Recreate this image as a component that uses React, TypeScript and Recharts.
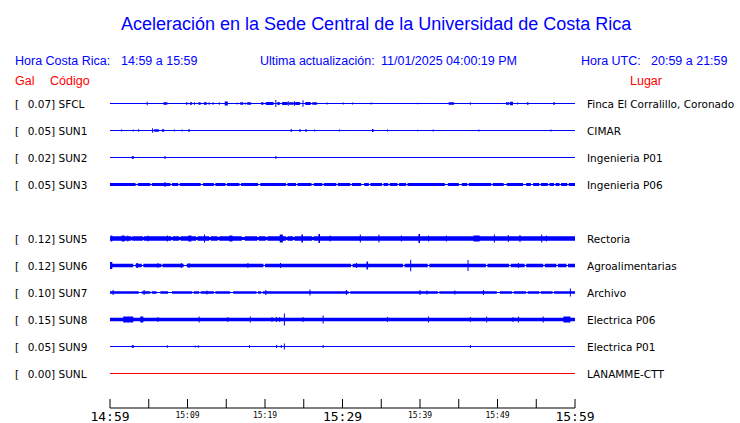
import React from 'react';
import { ComposedChart, Area, Line, XAxis, YAxis } from 'recharts';

// station list (top to bottom), Gal peak and place
const codes = ['SFCL', 'SUN1', 'SUN2', 'SUN3', 'SUN5', 'SUN6', 'SUN7', 'SUN8', 'SUN9', 'SUNL'];
const galPeaks = ['0.07', '0.05', '0.02', '0.05', '0.12', '0.12', '0.10', '0.15', '0.05', '0.00'];
const places = [
  'Finca El Corralillo, Coronado', 'CIMAR', 'Ingenieria P01', 'Ingenieria P06', 'Rectoria',
  'Agroalimentarias', 'Archivo', 'Electrica P06', 'Electrica P01', 'LANAMME-CTT',
];

// minutes after 14:59 for the axis
const axisTicks = [0, 5, 10, 15, 20, 25, 30, 35, 40, 45, 50, 55, 60];
const bigLabels: Record<number, string> = { 0: '14:59', 30: '15:29', 60: '15:59' };
const smallLabels: Record<number, string> = { 10: '15:09', 20: '15:19', 40: '15:39', 50: '15:49' };

// background half-thickness of each trace
const baseAmp = [0, 0, 0, 1.5, 2.3, 1.7, 1.3, 1.8, 0, 0];

// [start minute, end minute, half amplitude]
const sfclBursts = [
  [4.8, 4.8, 1.7], [6.9, 7.4, 1.3], [9.9, 9.9, 1.5], [10.3, 10.6, 1.3], [10.9, 11.0, 1.3],
  [11.4, 11.7, 1.3], [12.1, 12.5, 1.3], [12.7, 12.9, 1.0], [13.3, 13.3, 1.3], [14.1, 14.2, 1.3],
  [14.8, 15.2, 2.0], [16.4, 16.4, 1.0], [16.8, 17.2, 1.3], [17.5, 17.5, 1.0], [17.7, 18.2, 1.3],
  [19.5, 19.8, 1.3], [20.1, 21.1, 1.5], [21.4, 21.4, 3.5], [21.6, 21.9, 1.5], [22.2, 22.9, 1.5],
  [23.0, 23.0, 2.3], [23.1, 23.7, 1.3], [23.8, 23.8, 2.3], [23.9, 24.5, 1.5], [24.9, 24.9, 3.3],
  [25.2, 25.9, 1.5], [26.1, 26.7, 1.3], [28.0, 28.0, 1.0], [30.1, 30.1, 1.0], [31.3, 31.3, 1.0],
  [33.7, 33.7, 1.0], [39.7, 39.7, 0.8], [43.7, 44.4, 1.3], [46.5, 46.6, 1.3], [51.1, 51.5, 1.3],
  [51.6, 52.0, 1.7], [52.6, 52.6, 1.0], [53.8, 54.0, 1.3], [57.2, 57.4, 1.3],
];
const sun1Bursts = [
  [1.5, 1.5, 1.0], [3.0, 3.0, 1.0], [3.7, 3.7, 1.3], [5.5, 5.5, 2.3], [5.7, 6.3, 1.3],
  [6.7, 7.0, 1.3], [8.3, 8.3, 1.0], [9.3, 9.3, 1.0], [10.1, 10.3, 1.3], [23.3, 23.5, 1.3],
  [24.4, 24.6, 1.3], [25.2, 25.4, 1.3], [26.4, 26.4, 1.0], [29.6, 29.6, 1.0], [33.8, 34.0, 1.5],
  [35.8, 35.8, 1.0], [39.7, 39.7, 0.8], [41.7, 41.7, 1.0], [47.6, 47.6, 1.0], [56.9, 56.9, 1.0],
];
const sun2Bursts = [[2.8, 3.1, 1.3], [7.1, 7.1, 1.5], [21.4, 21.4, 1.5]];
const sun3Bursts = [
  [3.3, 3.6, 0.5], [5.2, 5.4, 0.5], [7.1, 7.1, 2.5], [7.8, 8.0, 0.5], [8.8, 9.0, 0.5],
  [11.7, 12.0, 0.5], [13.4, 13.6, 0.5], [14.9, 15.1, 0.5], [16.7, 16.9, 0.5], [19.1, 19.4, 0.5],
  [22.7, 22.9, 0.5], [24.0, 24.2, 0.5], [26.0, 26.3, 0.5], [27.4, 27.6, 0.5], [29.2, 29.4, 0.5],
  [31.0, 31.2, 0.5], [32.4, 32.8, 0.5], [33.4, 33.6, 0.5], [35.1, 35.3, 0.5], [35.9, 36.1, 0.5],
  [37.1, 37.3, 0.5], [38.2, 38.4, 0.5], [43.2, 43.6, 0.5], [45.0, 45.4, 0.5], [46.1, 46.3, 0.5],
  [49.2, 49.4, 0.5], [50.8, 51.2, 0.5], [53.3, 53.7, 0.5], [54.3, 54.6, 0.5], [55.4, 55.6, 0.5],
  [56.5, 56.7, 0.5], [57.3, 57.5, 0.5], [58.0, 58.2, 0.5], [59.0, 59.2, 0.5],
];
const sun5Bursts = [
  [0.1, 0.3, 3.0], [1.5, 1.9, 3.0], [2.3, 2.3, 3.0], [2.8, 2.9, 1.5], [4.3, 4.4, 1.5],
  [4.9, 4.9, 3.0], [7.4, 7.4, 3.0], [7.9, 8.1, 1.5], [8.9, 9.1, 1.5], [10.1, 10.5, 3.0],
  [11.1, 11.3, 1.5], [12.2, 12.2, 4.0], [12.8, 13.0, 1.5], [13.9, 14.1, 1.5], [15.4, 15.8, 3.0],
  [17.0, 17.4, 1.5], [19.0, 19.2, 1.5], [20.1, 20.3, 1.5], [21.9, 22.3, 4.0], [22.7, 22.9, 1.5],
  [23.6, 23.8, 1.5], [24.7, 24.9, 4.0], [26.1, 26.3, 1.5], [26.9, 27.1, 4.5], [28.4, 28.4, 3.0],
  [32.3, 32.3, 4.0], [34.7, 34.7, 4.0], [37.6, 37.6, 3.0], [39.8, 40.0, 4.5], [41.1, 41.1, 3.0],
  [43.4, 43.4, 3.0], [46.9, 47.7, 3.0], [49.6, 49.6, 4.0], [51.4, 51.4, 3.5], [52.9, 52.9, 3.5],
  [55.7, 55.7, 4.0], [56.3, 56.3, 3.0],
];
const sun6Bursts = [
  [0.0, 0.3, 3.5], [3.0, 3.3, 0.5], [3.4, 3.6, 2.5], [4.1, 4.3, 0.5], [6.2, 6.2, 2.5],
  [6.7, 6.8, 0.5], [9.2, 9.2, 2.5], [9.5, 9.9, 0.5], [10.2, 10.2, 2.5], [17.8, 17.8, 2.5],
  [19.8, 20.0, 0.5], [22.0, 22.0, 2.5], [31.1, 31.3, 0.5], [31.8, 31.8, 2.5], [33.1, 33.3, 4.0],
  [37.8, 38.0, 0.5], [38.8, 38.8, 5.7], [41.0, 41.2, 0.5], [46.2, 46.2, 5.5], [48.5, 48.7, 0.5],
  [51.5, 51.7, 0.5], [52.7, 52.7, 2.5], [53.5, 53.7, 0.5], [55.9, 56.1, 0.5], [57.6, 57.8, 0.5],
  [58.9, 59.1, 0.5],
];
const sun7Bursts = [
  [0.4, 0.4, 2.5], [3.7, 4.1, 0.5], [4.4, 4.4, 2.5], [5.2, 5.4, 0.5], [6.0, 6.5, 0.5],
  [7.5, 8.0, 0.5], [10.6, 10.8, 0.5], [11.5, 11.7, 0.5], [12.5, 12.5, 2.0], [13.4, 13.6, 0.5],
  [15.5, 15.9, 0.5], [18.9, 19.1, 0.5], [19.5, 19.7, 0.5], [20.1, 20.1, 2.5], [25.8, 25.8, 3.0],
  [30.5, 30.5, 2.5], [30.8, 31.0, 0.5], [40.0, 40.0, 2.5], [40.9, 40.9, 2.0], [42.3, 42.5, 0.5],
  [44.5, 44.5, 2.0], [48.2, 48.2, 2.5], [49.9, 50.3, 0.5], [51.9, 52.1, 0.5], [53.7, 53.9, 0.5],
  [55.4, 55.6, 0.5], [57.1, 57.3, 0.5], [59.4, 59.4, 4.0],
];
const sun8Bursts = [
  [1.7, 3.0, 3.0], [3.9, 4.3, 3.0], [6.2, 6.2, 2.5], [11.5, 11.5, 3.0], [15.2, 15.2, 2.5],
  [18.1, 18.1, 3.0], [20.9, 20.9, 2.5], [21.5, 21.5, 2.5], [21.9, 21.9, 2.5], [22.5, 22.5, 6.0],
  [24.9, 24.9, 2.5], [27.5, 27.5, 4.0], [35.8, 35.8, 2.5], [41.1, 41.1, 3.0], [46.5, 46.5, 2.5],
  [48.6, 48.6, 3.0], [52.0, 52.0, 2.5], [52.7, 52.7, 3.0], [55.9, 55.9, 3.0], [58.5, 59.4, 3.0],
];
const sun9Bursts = [
  [2.8, 3.1, 1.3], [7.4, 7.4, 1.3], [11.0, 11.0, 1.0], [11.3, 11.5, 1.0], [18.0, 18.1, 1.3],
  [21.5, 21.5, 1.5], [22.1, 22.1, 1.5], [22.5, 22.5, 3.0], [27.5, 27.5, 1.5], [46.5, 46.5, 1.5],
];
const sunlBursts: number[][] = [];

const allBursts = [sfclBursts, sun1Bursts, sun2Bursts, sun3Bursts, sun5Bursts, sun6Bursts,
  sun7Bursts, sun8Bursts, sun9Bursts, sunlBursts];

// layout
const W = 740;
const H = 423;
const PLOT_L = 110;
const PLOT_R = 575;
const AXIS_Y = 408;
const ROW0 = 103.5;
const ROW_STEP = 27;
const ROW_SLOTS = [0, 1, 2, 3, 5, 6, 7, 8, 9, 10];
const BLUE = '#0000ff';
const RED = '#ff0000';

const rowY = (i: number) => ROW0 + ROW_SLOTS[i] * ROW_STEP;

function envelope(y0: number, base: number, bursts: number[][]) {
  const pts: { t: number; r: number[] }[] = [];
  const push = (t: number, a: number) => pts.push({ t, r: [y0 - a, y0 + a] });
  push(0, base);
  bursts.forEach(([t0, t1, a]) => {
    let s = t0;
    let e = t1;
    if (e - s < 0.13) { s = t0 - 0.065; e = t0 + 0.065; }
    push(s, base);
    push(s, a);
    push(e, a);
    push(e, base);
  });
  push(60, base);
  return pts;
}

const AxisTick = (props: any) => {
  const { x, payload } = props;
  const v = payload.value;
  return (
    <g>
      <line x1={x} x2={x} y1={AXIS_Y} y2={AXIS_Y - 9} stroke="#000" strokeWidth={1} />
      {bigLabels[v] && (
        <text x={x} y={421} textAnchor="middle" fontFamily="DejaVu Sans Mono" fontSize={13} fill="#000">
          {bigLabels[v]}
        </text>
      )}
      {smallLabels[v] && (
        <text x={x} y={418} textAnchor="middle" fontFamily="DejaVu Sans Mono" fontSize={8} fill="#000">
          {smallLabels[v]}
        </text>
      )}
    </g>
  );
};

export default function App() {
  return (
    <div style={{ position: 'absolute', left: 0, top: 0, width: W, height: H, background: '#fff' }}>
      <ComposedChart width={W} height={H} margin={{ top: 0, right: W - PLOT_R, bottom: 0, left: PLOT_L }}>
        <XAxis
          dataKey="t"
          type="number"
          domain={[0, 60]}
          ticks={axisTicks}
          height={H - AXIS_Y}
          tickLine={false}
          axisLine={{ stroke: '#000' }}
          tick={<AxisTick />}
          interval={0}
          allowDataOverflow
        />
        <YAxis type="number" domain={[0, AXIS_Y]} reversed hide allowDataOverflow />
        {codes.map((c, i) => (
          <Line
            key={'base-' + c}
            data={[{ t: 0, v: rowY(i) }, { t: 60, v: rowY(i) }]}
            dataKey="v"
            stroke={c === 'SUNL' ? RED : BLUE}
            strokeWidth={1}
            dot={false}
            isAnimationActive={false}
          />
        ))}
        {codes.map((c, i) => (
          <Area
            key={'env-' + c}
            data={envelope(rowY(i), baseAmp[i], allBursts[i])}
            dataKey="r"
            type="linear"
            stroke="none"
            fill={BLUE}
            fillOpacity={1}
            isAnimationActive={false}
          />
        ))}
      </ComposedChart>
      <svg width={W} height={H} style={{ position: 'absolute', left: 0, top: 0, pointerEvents: 'none' }}>
        <text x={121} y={30} fontFamily="Liberation Sans" fontSize={18} fill={BLUE}>
          Aceleración en la Sede Central de la Universidad de Costa Rica
        </text>
        <g fontFamily="Liberation Sans" fontSize={12.5} fill={BLUE}>
          <text x={15} y={65}>Hora Costa Rica:</text>
          <text x={121} y={65}>14:59 a 15:59</text>
          <text x={260} y={65}>Ultima actualización:</text>
          <text x={381} y={65}>11/01/2025 04:00:19 PM</text>
          <text x={581} y={65}>Hora UTC:</text>
          <text x={651} y={65}>20:59 a 21:59</text>
        </g>
        <g fontFamily="Liberation Sans" fontSize={12.5} fill={RED}>
          <text x={15} y={85}>Gal</text>
          <text x={50} y={85}>Código</text>
          <text x={630} y={85}>Lugar</text>
        </g>
        <g fontFamily="DejaVu Sans" fontSize={10.5} fill="#000">
          {codes.map((c, i) => (
            <g key={'lbl-' + c}>
              <text x={15} y={rowY(i) + 4}>[</text>
              <text x={27.7} y={rowY(i) + 4}>{galPeaks[i]}] {c}</text>
              <text x={587} y={rowY(i) + 4}>{places[i]}</text>
            </g>
          ))}
        </g>
      </svg>
    </div>
  );
}
